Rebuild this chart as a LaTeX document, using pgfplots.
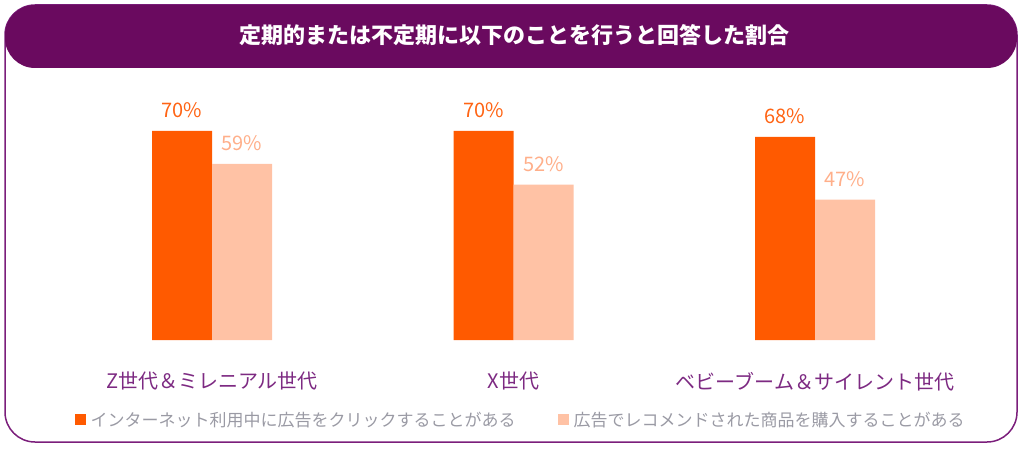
\documentclass[border=0pt]{standalone}
\usepackage{fontspec}
\setmainfont{Noto Sans CJK JP}
\usepackage{pgfplots}
\pgfplotsset{compat=1.18}

\definecolor{titlepurple}{HTML}{6A0A5F}
\definecolor{framepurple}{HTML}{7B1E7B}
\definecolor{barorange}{HTML}{FF5A00}
\definecolor{barpeach}{HTML}{FFC2A5}
\definecolor{txtorange}{HTML}{FF6414}
\definecolor{txtpeach}{HTML}{FFAF8A}
\definecolor{catpurple}{HTML}{7D2A82}
\definecolor{legendgray}{HTML}{9A9AA4}

\begin{document}
\begin{tikzpicture}
\useasboundingbox (0pt,0pt) rectangle (1024pt,448pt);
% frame and title bar
\draw[framepurple, line width=1.5pt, rounded corners=30pt] (5pt,6pt) rectangle (1017pt,443pt);
\fill[titlepurple, rounded corners=30pt] (5pt,380pt) rectangle (1017pt,443pt);
\node[text=white, font=\fontsize{22}{26}\selectfont\bfseries] at (514pt,413pt)
  {定期的または不定期に以下のことを行うと回答した割合};

\begin{axis}[
  at={(61.25pt,108pt)}, anchor=south west,
  scale only axis,
  width=904.5pt, height=298.6pt,
  xmin=-0.5, xmax=2.5,
  ymin=0, ymax=100,
  clip=false,
  ybar=0pt, bar width=60pt,
  axis line style={draw=none},
  tick style={draw=none},
  ytick=\empty,
  xtick={0,1,2},
  xticklabels={Z世代＆ミレニアル世代, X世代, ベビーブーム＆サイレント世代},
  xticklabel style={anchor=center, yshift=-37pt, text=catpurple,
    font=\fontsize{20}{24}\selectfont},
  nodes near coords={\pgfmathprintnumber[assume math mode=true]{\pgfplotspointmeta}\%},
  every node near coord/.append style={anchor=base, yshift=13pt,
    font=\fontsize{20}{24}\selectfont},
  legend style={draw=none, fill=none, at={(0.508,-0.268)}, anchor=center,
    legend columns=2, text=legendgray, font=\fontsize{17}{20}\selectfont,
    /tikz/every even column/.append style={column sep=40pt}},
  legend image code/.code={\fill[#1] (0pt,-5pt) rectangle (11pt,6pt); \path (14pt,0pt);},
]
\addplot[fill=barorange, draw=none,
  every node near coord/.append style={text=txtorange}]
  coordinates {(0,70) (1,70) (2,68)};
\addplot[fill=barpeach, draw=none,
  every node near coord/.append style={text=txtpeach}]
  coordinates {(0,59) (1,52) (2,47)};
\legend{インターネット利用中に広告をクリックすることがある, 広告でレコメンドされた商品を購入することがある}
\end{axis}
\end{tikzpicture}
\end{document}
